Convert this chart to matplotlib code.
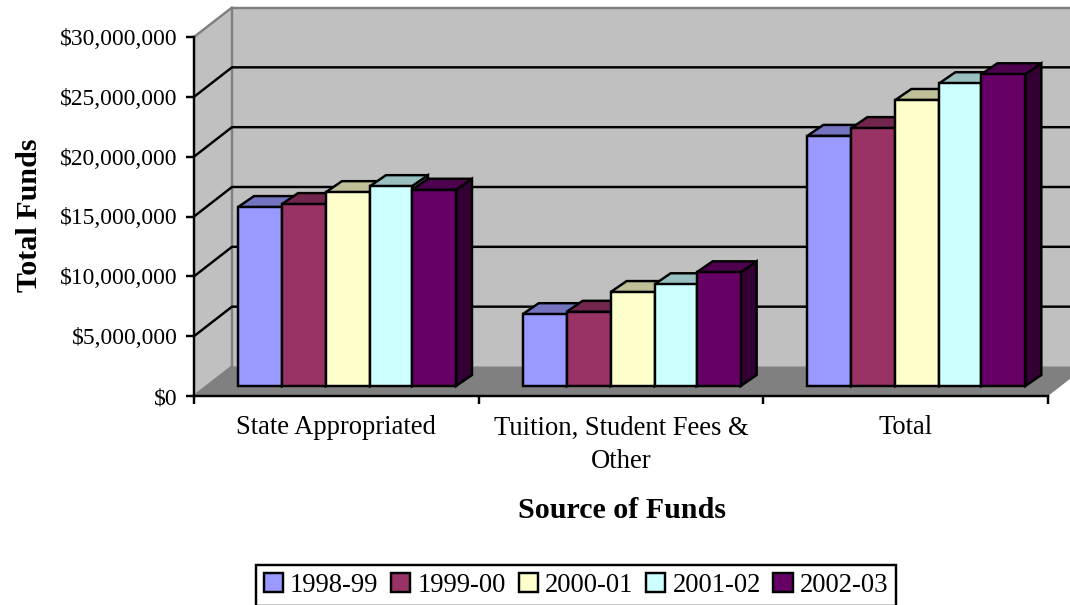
import matplotlib
matplotlib.use("Agg")
import matplotlib.pyplot as plt
import numpy as np
from matplotlib.colors import to_rgb
from matplotlib.patches import Patch

plt.rcParams['font.family'] = ['Liberation Serif', 'DejaVu Serif']

categories = ["State Appropriated", "Tuition, Student Fees &\nOther", "Total"]
years = ["1998-99", "1999-00", "2000-01", "2001-02", "2002-03"]
state_funds = [14.95e6, 15.2e6, 16.2e6, 16.7e6, 16.4e6]
tuition_funds = [6.0e6, 6.2e6, 7.85e6, 8.5e6, 9.5e6]
total_funds = [20.9e6, 21.55e6, 23.9e6, 25.3e6, 26.05e6]
y_ticks = [0, 5e6, 10e6, 15e6, 20e6, 25e6, 30e6]
colors = ['#9999FF', '#993366', '#FFFFCC', '#CCFFFF', '#660066']

W, H = 1070, 605
LW = 1.75
FS = 16.9
FS_CAT = 19.2
FS_TITLE = 21.6

fig = plt.figure(figsize=(W / 100, H / 100), dpi=100, facecolor='white')
# front plane of the fake 3D box, in pixels from the picture
ax = fig.add_axes([194 / W, (H - 396) / H, 854 / W, 359 / H])
ax.set_xlim(0, 3)
ax.set_ylim(0, 30e6)
ax.patch.set_visible(False)

# data units per pixel
px = 3 / 854
py = 30e6 / 359

# depth of the box
wx, wy = 38 * px, 29.5 * py


def poly(xs, ys, color, edge='none', lw=0, z=1):
    ax.fill(xs, ys, facecolor=color, edgecolor=edge, linewidth=lw, zorder=z, clip_on=False)


# back wall, side wall, floor
poly([wx, 3 + wx, 3 + wx, wx], [wy, wy, 30e6 + wy, 30e6 + wy], '#C0C0C0')
poly([0, wx, wx, 0], [0, wy, 30e6 + wy, 30e6], '#C0C0C0')
poly([0, wx, 3 + wx, 3], [0, wy, wy, 0], '#808080')

# grey edges of the walls
ax.plot([0, wx, wx], [30e6, 30e6 + wy, wy], color='#808080', lw=LW, zorder=1.5, clip_on=False)
ax.plot([wx, 3 + wx], [30e6 + wy, 30e6 + wy], color='#808080', lw=LW, zorder=1.5, clip_on=False)
ax.plot([0, wx], [0, wy], color='#808080', lw=LW, zorder=1.5, clip_on=False)

# gridlines run across the side wall then along the back wall
for t in y_ticks[1:-1]:
    ax.plot([0, wx, 3 + wx], [t, t + wy, t + wy], color='black', lw=LW, zorder=2, clip_on=False)

# bars, drawn left to right so each one hides the side of the previous
bar_edges = np.array([44, 88, 132, 176, 218, 262]) * px
base_y = 10 * py
dx, dy = 16 * px, 11 * py

all_values = [state_funds, tuition_funds, total_funds]
for c, values in enumerate(all_values):
    for s, v in enumerate(values):
        x0 = c + bar_edges[s]
        x1 = c + bar_edges[s + 1]
        top = base_y + v
        col = np.array(to_rgb(colors[s]))
        poly([x1, x1 + dx, x1 + dx, x1], [base_y, base_y + dy, top + dy, top], col * 0.5, 'black', LW, 3)
        poly([x0, x0 + dx, x1 + dx, x1], [top, top + dy, top + dy, top], col * 0.75, 'black', LW, 3)
        ax.bar(x0, v, width=x1 - x0, bottom=base_y, align='edge', color=colors[s],
               edgecolor='black', linewidth=LW, zorder=3)

# axes
for side in ['top', 'right']:
    ax.spines[side].set_visible(False)
for side in ['left', 'bottom']:
    ax.spines[side].set_linewidth(LW)
    ax.spines[side].set_zorder(4)

ax.set_yticks(y_ticks)
ax.set_yticklabels(['${:,.0f}'.format(t) for t in y_ticks], fontsize=FS)
ax.tick_params(axis='y', length=6, width=LW, pad=6)
ax.set_xticks([0, 1, 2, 3])
ax.set_xticklabels([])
ax.tick_params(axis='x', which='major', length=6, width=LW)
ax.set_xticks([0.5, 1.5, 2.5], minor=True)
ax.set_xticklabels(categories, minor=True, fontsize=FS_CAT, linespacing=1.45)
ax.tick_params(axis='x', which='minor', length=0, pad=14)

fig.text(29.5 / W, 1 - 215 / H, "Total Funds", rotation=90, fontsize=FS_TITLE, fontweight='bold',
         ha='center', va='center')
fig.text(622 / W, 1 - 510 / H, "Source of Funds", fontsize=FS_TITLE, fontweight='bold',
         ha='center', va='center')

handles = [Patch(facecolor=colors[i], edgecolor='black', linewidth=LW, label=years[i]) for i in range(5)]
leg = fig.legend(handles=handles, ncol=5, loc='center', bbox_to_anchor=(576 / W, 1 - 585.5 / H),
                 fontsize=FS_CAT, frameon=True, fancybox=False, framealpha=1, edgecolor='black',
                 handlelength=0.72, handleheight=0.72, handletextpad=0.27, columnspacing=0.475,
                 borderpad=0.29, borderaxespad=0)
leg.get_frame().set_linewidth(LW)

fig.savefig("out.png", dpi=100, facecolor='white')
